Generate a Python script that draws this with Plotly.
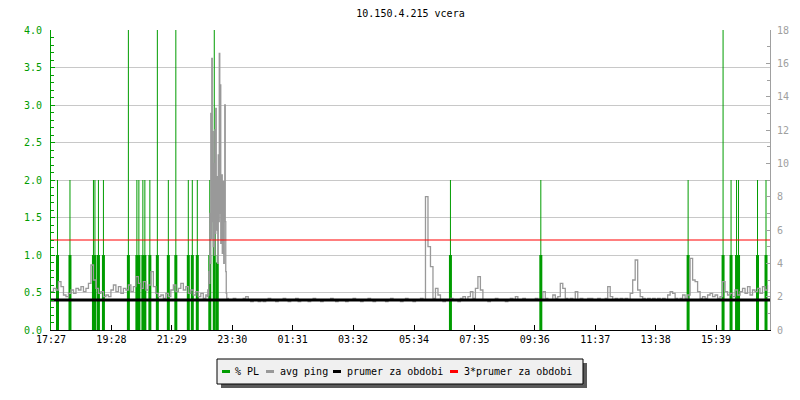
import plotly.graph_objects as go
from datetime import datetime, timedelta

# ---------------- data ----------------
TITLE = "10.150.4.215 vcera"
START = "17:27"
tick_labels = ["17:27", "19:28", "21:29", "23:30", "01:31", "03:32",
               "05:34", "07:35", "09:36", "11:37", "13:38", "15:39"]

# packet-loss events (% PL, left axis)
pl_times = ["17:40", "18:05", "18:52", "18:55", "19:02", "19:12", "20:02", "20:19",
            "20:23", "20:31", "20:35", "20:45", "21:00", "21:22", "21:37", "22:02",
            "22:10", "22:20", "22:45", "22:54", "23:00", "06:47", "09:48", "14:43",
            "15:53", "16:09", "16:20", "16:24", "17:02", "17:19"]
pl_peak = [2, 2, 2, 2, 2, 2, 4, 2, 2, 2, 2, 2, 4, 2, 4, 2,
           2, 2, 2, 4, 1, 2, 2, 2, 4, 2, 2, 2, 2, 2]
pl_base = [1, 1, 1, 1, 1, 1, 1, 1, 1, 1, 1, 1, 1, 1, 1, 1,
           1, 1, 1, 1.5, 0.9, 1, 1, 1, 1, 1, 1, 1, 1, 1]

# avg ping (ms, right axis), one value every 5 minutes from 17:27
ping_5min = [
    2.3, 2.5, 2.4, 2.9, 2.6, 2.1, 2.0, 2.2, 2.4, 2.2, 2.5, 2.4,
    2.6, 2.3, 2.5, 2.8, 3.9, 3.0, 2.5, 2.2, 2.3, 2.0, 2.1, 2.0,
    2.4, 2.7, 2.3, 2.6, 2.2, 2.5, 2.4, 2.7, 2.3, 2.6, 3.2, 2.8,
    2.5, 2.9, 2.4, 2.7, 3.5, 2.6, 2.2, 2.0, 2.1, 1.9, 2.2, 2.0,
    2.4, 2.7, 2.3, 2.5, 2.8, 2.4, 2.6, 2.2, 2.4, 2.1, 2.3, 2.0,
    2.2, 1.9, 2.1, 9.0, 12.0, 10.0, 11.0, 9.0, 8.0, 6.0, 2.0, 1.8,
    1.8, 1.9, 1.8, 1.8, 1.8, 1.9, 2.0, 1.8, 1.7, 1.8, 1.8, 1.7,
    1.8, 1.7, 1.8, 1.9, 1.8, 1.8, 1.7, 1.8, 1.8, 1.9, 1.8, 1.7,
    1.8, 1.8, 1.9, 1.7, 1.8, 1.8, 1.8, 1.7, 1.8, 1.9, 1.8, 1.8,
    1.7, 1.8, 1.8, 1.8, 1.9, 1.8, 1.7, 1.8, 1.8, 1.8, 1.7, 1.8,
    1.8, 1.9, 1.8, 1.8, 1.7, 1.8, 1.8, 1.9, 1.8, 1.7, 1.8, 1.8,
    1.8, 1.8, 1.7, 1.8, 1.9, 1.8, 1.8, 1.8, 1.7, 1.8, 1.9, 1.8,
    1.8, 1.7, 1.8, 1.8, 1.9, 1.8, 8.0, 5.0, 3.8, 1.9, 2.5, 2.1,
    1.8, 1.7, 1.8, 1.8, 1.9, 1.8, 1.8, 1.7, 1.9, 2.0, 1.8, 2.0,
    2.3, 1.9, 2.5, 3.2, 2.4, 1.8, 1.8, 1.7, 1.8, 1.8, 1.9, 1.8,
    1.8, 1.8, 1.7, 1.8, 1.9, 1.8, 2.0, 1.8, 1.8, 1.9, 1.8, 1.8,
    1.8, 1.8, 1.9, 1.8, 1.8, 2.3, 1.9, 1.8, 1.8, 2.1, 1.9, 2.0,
    2.8, 2.5, 1.9, 1.8, 1.9, 1.8, 2.3, 1.8, 1.9, 1.8, 1.8, 1.9,
    1.9, 1.8, 1.8, 1.9, 1.8, 1.8, 1.9, 2.6, 2.0, 1.8, 1.9, 1.8,
    1.9, 1.8, 1.9, 1.8, 2.2, 3.0, 4.2, 2.4, 2.0, 1.9, 1.8, 1.9,
    1.8, 1.9, 1.8, 1.9, 1.8, 1.9, 1.8, 2.1, 2.3, 2.2, 1.9, 1.8,
    1.9, 2.1, 1.9, 2.1, 4.3, 3.0, 2.9, 2.3, 1.9, 2.0, 1.9, 2.1,
    2.2, 2.0, 2.1, 1.9, 2.0, 2.9, 2.3, 2.1, 2.2, 2.0, 2.4, 2.1,
    2.3, 2.5, 2.2, 2.6, 2.1, 2.4, 2.3, 2.5, 2.2, 2.6, 2.4, 2.7,
]
# finer (1-minute) ping samples during the late-evening burst
burst_start = "22:40"
ping_burst_1min = [
    2.0, 2.4, 2.1, 3.5, 2.8, 7.0, 4.0, 13.0, 5.5, 16.3,
    6.5, 11.9, 5.0, 10.0, 4.5, 12.0, 5.8, 13.3, 6.0, 8.5,
    9.2, 4.0, 10.5, 6.5, 16.6, 7.0, 14.7, 5.2, 9.0, 9.3,
    4.6, 7.5, 8.9, 4.0, 8.0, 13.5, 6.5, 3.5, 2.2, 1.9,
]
ping_avg = 1.8  # prumer za obdobi (ms)

# ---------------- helpers ----------------
BASE = datetime(2000, 1, 1)
sh, sm = map(int, START.split(":"))
T0 = BASE.replace(hour=sh, minute=sm)


def to_dt(hhmm):
    h, m = map(int, hhmm.split(":"))
    t = BASE.replace(hour=h, minute=m)
    if t < T0:
        t += timedelta(days=1)
    return t


T1 = T0 + timedelta(days=1)

# ping series (5-min grid, burst replaced by 1-min samples)
b0 = to_dt(burst_start)
b_times = [b0 + timedelta(minutes=j) for j in range(len(ping_burst_1min))]
b1 = b_times[-1]
pts = []
for i, v in enumerate(ping_5min):
    t = T0 + timedelta(minutes=5 * i)
    if t < b0 or t > b1:
        pts.append((t, v))
pts += list(zip(b_times, ping_burst_1min))
pts.sort()
ping_x = [p[0] for p in pts]
ping_y = [p[1] for p in pts]

# PL spikes
thin_x, thin_y, thick_x, thick_y = [], [], [], []
for t, pk, bs in zip(pl_times, pl_peak, pl_base):
    d = to_dt(t)
    thin_x += [d, d, None]
    thin_y += [0, pk, None]
    thick_x += [d, d, None]
    thick_y += [0, bs, None]

GREEN = "#009c00"
GRAY = "#999999"
AXGRAY = "#a0a0a0"
RED = "#ff0000"
FONT = "DejaVu Sans Mono"

fig = go.Figure()
fig.add_trace(go.Scatter(x=thin_x, y=thin_y, mode="lines", name="% PL",
                         line=dict(color=GREEN, width=1), yaxis="y",
                         showlegend=False, hoverinfo="skip"))
fig.add_trace(go.Scatter(x=ping_x, y=ping_y, mode="lines", name="avg ping",
                         line=dict(color=GRAY, width=1.3, shape="hv"), yaxis="y2",
                         showlegend=False))
fig.add_trace(go.Scatter(x=thick_x, y=thick_y, mode="lines", name="% PL",
                         line=dict(color=GREEN, width=3), yaxis="y",
                         showlegend=False))
fig.add_trace(go.Scatter(x=[T0, T1], y=[ping_avg, ping_avg], mode="lines",
                         name="prumer za obdobi", line=dict(color="black", width=3),
                         yaxis="y2", showlegend=False))
fig.add_trace(go.Scatter(x=[T0, T1], y=[3 * ping_avg, 3 * ping_avg], mode="lines",
                         name="3*prumer za obdobi", line=dict(color=RED, width=1.2),
                         yaxis="y2", showlegend=False))

# ---------------- layout ----------------
L, R, T, B = 51, 30, 30, 70
W, H = 800, 400
PW, PH = W - L - R, H - T - B


def px2x(px):
    return (px - L) / PW


def py2y(py):
    return (H - B - py) / PH


tickvals = [to_dt(s) for s in tick_labels]

fig.update_layout(
    width=W, height=H,
    margin=dict(l=L, r=R, t=T, b=B, autoexpand=False),
    paper_bgcolor="white", plot_bgcolor="white",
    font=dict(family=FONT, size=10, color="black"),
    showlegend=False,
    xaxis=dict(type="date", range=[T0, T1], tickvals=tickvals, ticktext=tick_labels,
               showgrid=False, zeroline=False, showline=True, linecolor="black",
               linewidth=1, ticks="inside", ticklen=5, tickcolor="black",
               tickfont=dict(family=FONT, size=10, color="black")),
    yaxis=dict(range=[0, 4], dtick=0.5, tickformat=".1f", showgrid=True,
               gridcolor="#c8c8c8", gridwidth=1, zeroline=False, showline=True,
               linecolor=GREEN, linewidth=1, ticks="inside", ticklen=4,
               tickcolor=GREEN, ticklabelstandoff=6,
               tickfont=dict(family=FONT, size=10, color=GREEN),
               minor=dict(dtick=0.1, ticks="inside", ticklen=3, tickcolor=GREEN,
                          showgrid=False)),
    yaxis2=dict(range=[0, 18], dtick=2, overlaying="y", side="right", anchor="x",
                showgrid=False, zeroline=False, showline=True, linecolor=AXGRAY,
                linewidth=1, ticks="inside", ticklen=4, tickcolor=AXGRAY,
                ticklabelstandoff=4,
                tickfont=dict(family=FONT, size=10, color=AXGRAY),
                minor=dict(dtick=1, ticks="inside", ticklen=3, tickcolor=AXGRAY)),
    title=dict(text=TITLE, x=0.5, xref="paper", y=1 - 13 / H, yref="container",
               yanchor="middle", xanchor="center",
               font=dict(family=FONT, size=10, color="black")),
)

# custom legend box with shadow
bx0, bx1, by0, by1 = 217, 583, 359, 384
shapes = [
    dict(type="rect", xref="paper", yref="paper",
         x0=px2x(bx0 + 4), x1=px2x(bx1 + 4), y0=py2y(by0 + 4), y1=py2y(by1 + 4),
         fillcolor="#5a5a5a", line=dict(width=0), layer="above"),
    dict(type="rect", xref="paper", yref="paper",
         x0=px2x(bx0), x1=px2x(bx1), y0=py2y(by0), y1=py2y(by1),
         fillcolor="#f0f0f0", line=dict(color="black", width=1), layer="above"),
]
ly = (by0 + by1) / 2
legend_items = [("% PL", GREEN, 222, 230, 234),
                ("avg ping", GRAY, 266, 274, 279),
                ("prumer za obdobi", "black", 333, 341, 346),
                ("3*prumer za obdobi", RED, 450, 458, 463)]
annotations = []
for name, col, lx0, lx1, tx in legend_items:
    shapes.append(dict(type="line", xref="paper", yref="paper",
                       x0=px2x(lx0), x1=px2x(lx1), y0=py2y(ly), y1=py2y(ly),
                       line=dict(color=col, width=3), layer="above"))
    annotations.append(dict(text=name, xref="paper", yref="paper", x=px2x(tx - 1),
                            y=py2y(ly), xanchor="left", yanchor="middle",
                            showarrow=False,
                            font=dict(family=FONT, size=10, color="black")))
fig.update_layout(shapes=shapes, annotations=annotations)

fig.write_html("out.html", config={"displayModeBar": False},
               post_script="document.body.style.margin='0px';document.body.style.overflow='hidden';")
